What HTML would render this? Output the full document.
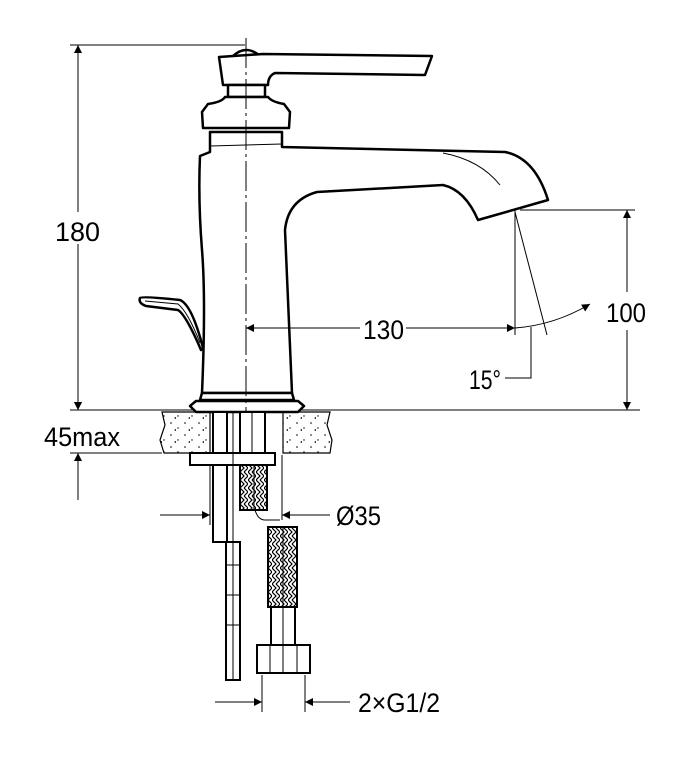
<!DOCTYPE html>
<html><head><meta charset="utf-8"><style>
html,body{margin:0;padding:0;background:#fff;}
svg{display:block;}
text{font-family:"Liberation Sans",sans-serif;fill:#000;}
</style></head><body>
<svg width="690" height="764" viewBox="0 0 690 764" xmlns="http://www.w3.org/2000/svg">
<defs>
<marker id="a" viewBox="0 0 10 10" refX="10" refY="5" markerWidth="14" markerHeight="8" markerUnits="userSpaceOnUse" orient="auto-start-reverse"><path d="M0,0 L10,5 L0,10 z" fill="#000"/></marker>
<pattern id="st" width="14" height="12" patternUnits="userSpaceOnUse"><circle cx="3" cy="3" r="0.8" fill="#000"/><circle cx="10" cy="8" r="0.7" fill="#000"/><path d="M6,10 l2,-1 l0,2z" fill="#000"/></pattern>
<pattern id="br" width="8" height="8" patternUnits="userSpaceOnUse"><path d="M0,0 L4,4 L0,8 M4,0 L8,4 L4,8" stroke="#000" stroke-width="1.2" fill="none"/></pattern>
</defs>
<g stroke="#000" fill="none" stroke-width="1">
<line x1="70" y1="45" x2="245" y2="45"/>
<line x1="78" y1="45" x2="78" y2="410" marker-start="url(#a)" marker-end="url(#a)"/>
<line x1="70" y1="410" x2="640" y2="410"/>
<line x1="70" y1="453" x2="162" y2="453"/>
<line x1="78" y1="390" x2="78" y2="410" marker-end="url(#a)"/>
<line x1="78" y1="500" x2="78" y2="453" marker-end="url(#a)"/>
<line x1="515" y1="210" x2="515" y2="335"/>
<line x1="515" y1="212" x2="547" y2="335"/>
<path d="M515,328 Q555,325 590,304" marker-end="url(#a)"/>
<polyline points="531,327 531,378 505,378"/>
<line x1="520" y1="210" x2="635" y2="210"/>
<line x1="627" y1="210" x2="627" y2="292" marker-start="url(#a)"/>
<line x1="627" y1="330" x2="627" y2="410" marker-end="url(#a)"/>
<line x1="160" y1="515" x2="210" y2="515" marker-end="url(#a)"/>
<line x1="330" y1="515" x2="282" y2="515" marker-end="url(#a)"/>
<line x1="210" y1="455" x2="210" y2="525"/>
<line x1="282" y1="455" x2="282" y2="520"/>
<line x1="262" y1="675" x2="262" y2="712"/>
<line x1="305" y1="675" x2="305" y2="712"/>
<line x1="215" y1="702" x2="262" y2="702" marker-end="url(#a)"/>
<line x1="350" y1="702" x2="305" y2="702" marker-end="url(#a)"/>
</g>
<g stroke="#000" stroke-width="1.2">
<path d="M162,412 L210,412 L210,453 L164,453 L160,440 L165,425 z" fill="url(#st)"/>
<path d="M283,412 L330,412 L327,425 L332,440 L330,453 L283,453 z" fill="url(#st)"/>
</g>
<g stroke="#000" stroke-width="2.5" fill="#fff" stroke-linejoin="round">
<path d="M233,56 Q246,44 260,56 z"/>
<path d="M219,57 L263,54 L432,56 L425,75 L275,73 Q268,76 268,85 L223,85 z"/>
<rect x="228" y="85" width="37" height="12"/>
<path d="M225,97 L268,97 Q272,102 284,104 L290,112 L289,128 L203,128 L202,112 L208,104 Q222,102 225,97 z"/>
<path d="M210,132 L282,132 L282,147 L505,152 Q535,158 548,200 L478,220 Q465,190 443,185 L317,192 Q288,200 285,230 L292,393 L202,393 Q206,300 202,250 Q198,200 200,156 L210,152 z"/>
<path d="M202,393 L292,393 L294,400 L200,400 z"/>
<path d="M196,401 L298,401 L304,406 L298,412 L196,412 L190,406 z"/>
<path d="M140,298 Q142,296 180,300 Q192,305 203,348 L201,350 Q186,315 178,310 L146,306 Q138,303 140,298 z"/>
</g>
<g stroke="#000" stroke-width="1" fill="none">
<path d="M443,153 Q480,160 500,185"/>
<line x1="210" y1="146" x2="282" y2="144"/>
<path d="M145,301 L178,304 Q188,312 200,343"/>
<line x1="246" y1="38" x2="246" y2="425" stroke-dasharray="30,4,3,4"/>
<line x1="246" y1="328" x2="360" y2="328" marker-start="url(#a)"/>
<line x1="406" y1="328" x2="515" y2="328" marker-end="url(#a)"/>
</g>
<g stroke="#000" stroke-width="2" fill="#fff">
<rect x="213" y="412" width="14" height="130"/>
<rect x="240" y="412" width="25" height="42"/>
<rect x="190" y="453" width="85" height="12"/>
<rect x="240" y="465" width="27" height="45" fill="url(#br)"/>
<rect x="226" y="542" width="14" height="138"/>
<rect x="268" y="527" width="29" height="80" fill="url(#br)"/>
<rect x="271" y="607" width="24" height="40"/>
<rect x="257" y="645" width="53" height="28"/>
</g>
<g stroke="#000" stroke-width="1" fill="none">
<line x1="233" y1="412" x2="233" y2="680"/>
<line x1="252" y1="412" x2="252" y2="454"/>
<line x1="254" y1="465" x2="254" y2="510"/>
<line x1="283" y1="527" x2="283" y2="673"/>
<line x1="226" y1="565" x2="240" y2="565"/><line x1="226" y1="595" x2="240" y2="595"/>
<line x1="226" y1="625" x2="240" y2="625"/>
<line x1="270" y1="645" x2="270" y2="673"/><line x1="297" y1="645" x2="297" y2="673"/>
<path d="M255,510 Q258,520 265,520 L280,520"/>
</g>
<g font-size="27">
<rect x="52" y="212" width="52" height="32" fill="#fff"/>
<text x="55" y="241" textLength="45" lengthAdjust="spacingAndGlyphs">180</text>
<text x="44" y="446" textLength="76" lengthAdjust="spacingAndGlyphs">45max</text>
<text x="363" y="339" textLength="41" lengthAdjust="spacingAndGlyphs">130</text>
<text x="606" y="322" textLength="40" lengthAdjust="spacingAndGlyphs">100</text>
<text x="469" y="389" textLength="32" lengthAdjust="spacingAndGlyphs">15°</text>
<text x="336" y="525" textLength="45" lengthAdjust="spacingAndGlyphs">Ø35</text>
<text x="358" y="712" textLength="82" lengthAdjust="spacingAndGlyphs">2×G1/2</text>
</g>
</svg>
</body></html>
